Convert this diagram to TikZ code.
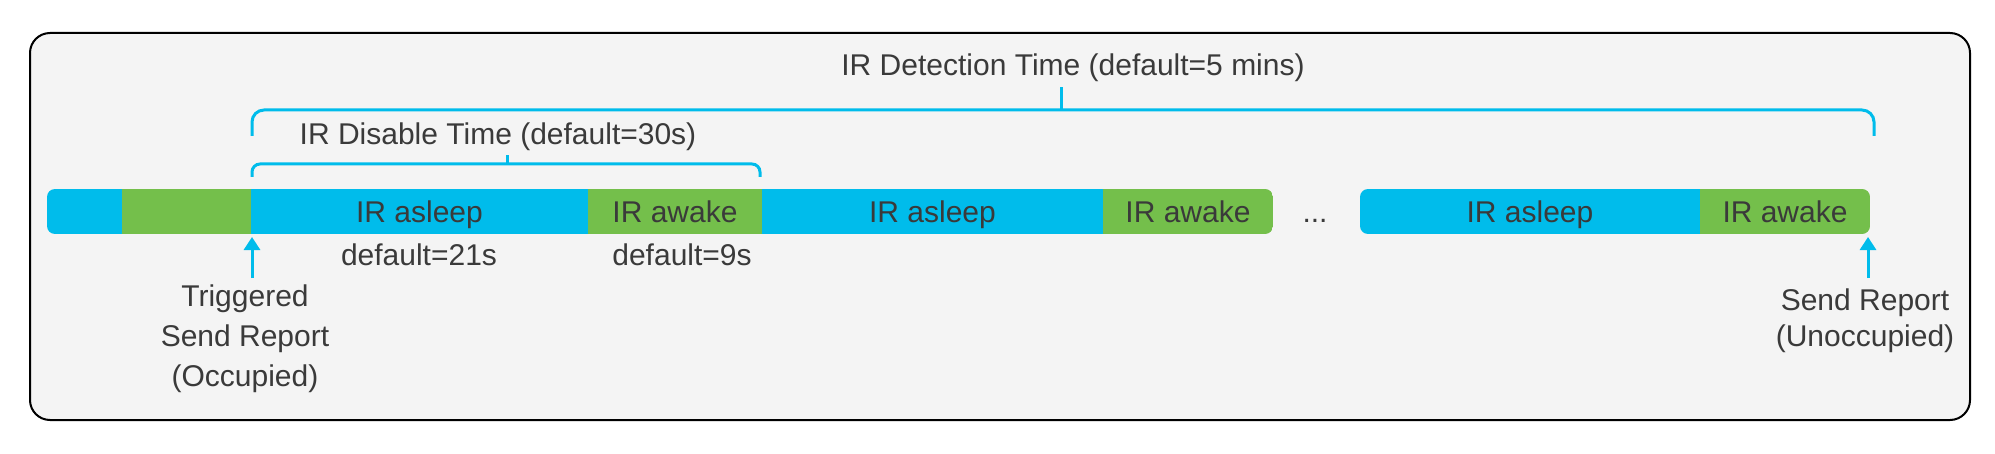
\documentclass[tikz,border=0pt]{standalone}
\usepackage{fontspec}
\setmainfont{Liberation Sans}
\usetikzlibrary{positioning,arrows.meta}
\definecolor{irblue}{RGB}{0,188,235}
\definecolor{irgreen}{RGB}{116,191,75}
\definecolor{txtgray}{RGB}{58,58,58}
\definecolor{panel}{RGB}{244,244,244}

\begin{document}
\begin{tikzpicture}[x=0.5pt,y=-0.5pt,
  font=\fontsize{15}{20}\selectfont, text=txtgray,
  seg/.style={inner sep=0pt, outer sep=0pt, minimum height=22.5pt, text height=11pt, text depth=0pt, anchor=west},
  asleep/.style={seg, fill=irblue},
  awake/.style={seg, fill=irgreen},
  brk/.style={irblue, line width=1.5pt},
  arr/.style={irblue, line width=1.5pt, -{Triangle[width=8pt,length=6.5pt]}},
  lbl/.style={inner sep=0pt}]
\useasboundingbox (0,0) rectangle (1995,454);
\draw [line width=1pt, fill=panel, rounded corners=10pt] (30,33) rectangle (1970,420);

% bar, first run
\begin{scope}
\clip [rounded corners=4pt] (47,189) rectangle (1273,234);
\node [asleep, minimum width=37.5pt] (s0) at (47,211.5) {};
\node [awake, minimum width=64.5pt, right=0pt of s0] (w0) {};
\node [asleep, minimum width=168.5pt, right=0pt of w0] (s1) {IR asleep};
\node [awake, minimum width=87pt, right=0pt of s1] (w1) {IR awake};
\node [asleep, minimum width=170.5pt, right=0pt of w1] (s2) {IR asleep};
\node [awake, minimum width=85pt, right=0pt of s2] (w2) {IR awake};
\end{scope}
\node [lbl, anchor=base] (dots) at (1315,222) {...};
% bar, last run
\begin{scope}
\clip [rounded corners=4pt] (1360,189) rectangle (1870,234);
\node [asleep, minimum width=170pt] (s3) at (1360,211.5) {IR asleep};
\node [awake, minimum width=85pt, right=0pt of s3] (w3) {IR awake};
\end{scope}

\node [lbl, anchor=base] (d1) at (419,265) {default=21s};
\node [lbl, anchor=base] (d2) at (682,265) {default=9s};

% brackets
\coordinate (dtl) at (252,136);
\coordinate (dtr) at (1874,136);
\coordinate (dtm) at (1061,110);
\coordinate (dtt) at (1061,87);
\draw [brk, rounded corners=6pt] (dtl) |- (dtr |- dtm) -- (dtr);
\draw [brk] (dtm) -- (dtt);
\node [lbl, anchor=base] (dt) at (1073,76) {IR Detection Time (default=5 mins)};

\coordinate (dil) at (252,177);
\coordinate (dir) at (760,177);
\coordinate (dim) at (507,164);
\coordinate (dit) at (507,155);
\draw [brk, rounded corners=4pt] (dil) |- (dir |- dim) -- (dir);
\draw [brk] (dim) -- (dit);
\node [lbl, anchor=base] (di) at (498,145) {IR Disable Time (default=30s)};

% reports
\coordinate (r1) at (252,278);
\coordinate (r1t) at (252,237);
\draw [arr] (r1) -- (r1t);
\node [lbl, anchor=north, align=center] (rep1) at (245,284) {Triggered\\Send Report\\(Occupied)};
\coordinate (r2) at (1868,278);
\coordinate (r2t) at (1868,237);
\draw [arr] (r2) -- (r2t);
\node [lbl, anchor=north, align=center, font=\fontsize{15}{18}\selectfont] (rep2) at (1865,288) {Send Report\\(Unoccupied)};
\end{tikzpicture}
\end{document}
